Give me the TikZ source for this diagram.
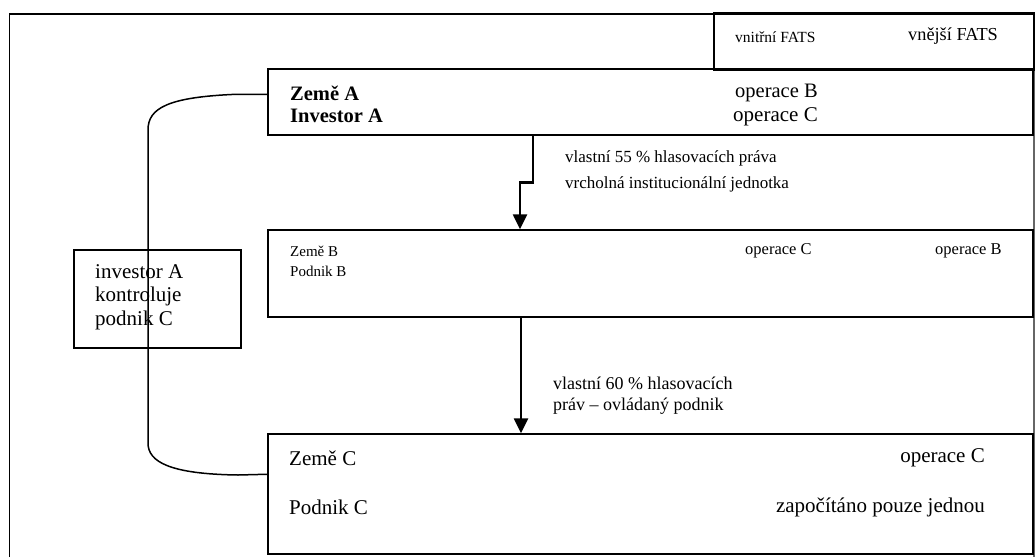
\documentclass[tikz,border=0pt]{standalone}
\usepackage{fontspec}
\setmainfont{Liberation Serif}
\usetikzlibrary{arrows.meta,calc}
\tikzset{
  boxs/.style={draw, line width=1.5pt, rectangle, inner sep=0pt},
  txt/.style={anchor=west, inner sep=0pt, align=left},
  txtr/.style={anchor=east, inner sep=0pt, align=right},
  arr/.style={line width=2.6pt, -{Triangle[width=14pt,length=15pt]}},
  conn/.style={line width=1.5pt},
}
\newcommand{\fs}[1]{\fontsize{#1}{#1}\selectfont}
\begin{document}
\begin{tikzpicture}[x=1pt,y=-1pt]
\useasboundingbox (0,0) rectangle (1035,557);
% outer frame
\draw[line width=1.5pt] (9.5,557) -- (9.5,14) -- (1034,14);
\draw[line width=1.2pt,black!60] (1034,14) -- (1034,557);
% boxes
\node[boxs, minimum width=320pt, minimum height=57pt] (F) at (874,41.5) {};
\node[boxs, minimum width=765pt, minimum height=66pt] (A) at (650.5,102) {};
\node[boxs, minimum width=765pt, minimum height=87pt] (B) at (650.5,273.5) {};
\node[boxs, minimum width=765pt, minimum height=120pt] (C) at (650.5,494) {};
\node[boxs, minimum width=167pt, minimum height=98pt] (I) at (157.5,299) {};
% texts
\node[txt] (f1) at (735,37) {\fs{15.5}vnitřní FATS};
\node[txt] (f2) at (908,36) {\fs{18.3}vnější FATS};
\node[txt] (a1) at (290,93) {\fs{20.5}\bfseries Země A};
\node[txt] (a2) at (290,116) {\fs{20.5}\bfseries Investor A};
\node[txt] (a3) at (735,93) {\fs{20.5}operace B};
\node[txt] (a4) at (733,117) {\fs{21}operace C};
\node[txt] (l1) at (565,158) {\fs{17}vlastní 55 \% hlasovacích práva};
\node[txt] (l2) at (565,184) {\fs{17}vrcholná institucionální jednotka};
\node[txt] (b1) at (290,251) {\fs{15}Země B};
\node[txt] (b2) at (290,271) {\fs{15}Podnik B};
\node[txt] (b3) at (745,251) {\fs{16.5}operace C};
\node[txt] (b4) at (935,251) {\fs{16.5}operace B};
\node[txt] (i1) at (95,272) {\fs{21}investor A};
\node[txt] (i2) at (95,296) {\fs{21}kontroluje};
\node[txt] (i3) at (95,320) {\fs{21}podnik C};
\node[txt] (m1) at (553,383) {\fs{18}vlastní 60 \% hlasovacích};
\node[txt] (m2) at (553,406) {\fs{18}práv -- ovládaný podnik};
\node[txt] (c1) at (289,458) {\fs{21}Země C};
\node[txt] (c2) at (289,507) {\fs{21}Podnik C};
\node[txtr] (c3) at (985,458) {\fs{21}operace C};
\node[txtr] (c4) at (985,507) {\fs{21}započítáno pouze jednou};
% connectors
\coordinate (x1) at (533,0);
\coordinate (x1b) at (520,0);
\coordinate (x2) at (521,0);
\draw[arr] (A.south -| x1) -- ++(0,47) -| (B.north -| x1b);
\draw[arr] (B.south -| x2) -- (C.north -| x2);
\draw[conn] ([yshift=-26pt]A.north west) -- ++(-30,0)
  .. controls (168,97) and (148,108) .. (148,130)
  -- (148,443)
  .. controls (148,462) and (170,474) .. (238,475)
  -- ([yshift=-41pt]C.north west);
\end{tikzpicture}
\end{document}
